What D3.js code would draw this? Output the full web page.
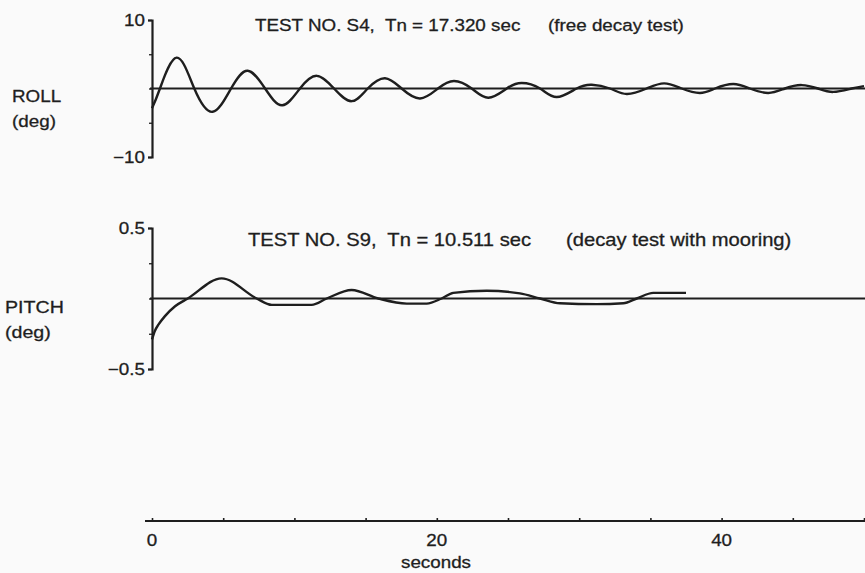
<!DOCTYPE html>
<html>
<head>
<meta charset="utf-8">
<script src="https://cdn.jsdelivr.net/npm/d3@7"></script>
<style>
  body { margin: 0; background: #fafafa; }
  text { font-family: "Liberation Sans", Arial, sans-serif; fill: #1e1e1e; stroke: #1e1e1e; stroke-width: 0.3px; white-space: pre; }
</style>
</head>
<body>
<div id="chart"></div>
<script>
// roll free decay trace (peaks, troughs, zero crossings)
var rollT = [0, 0.56, 1.73, 2.97, 4.26, 5.55, 6.72, 7.94, 9.15, 10.39, 11.57, 12.78, 14.02, 15.15, 16.36, 17.53, 18.82, 20.08, 21.21, 22.45, 23.62, 24.91, 25.96, 27.25, 28.42, 29.82, 30.88, 32.16, 33.34, 34.74, 35.97, 37.20, 38.48, 39.54, 40.82, 41.99, 43.28, 44.45, 45.62, 46.77, 47.84, 49.14, 50.0];
var rollV = [-2.9, 0, 4.5, 0, -3.4, 0, 2.6, 0, -2.45, 0, 1.85, 0, -1.85, 0, 1.5, 0, -1.45, 0, 1.1, 0, -1.35, 0, 0.8, 0, -1.25, 0, 0.55, 0, -0.8, 0, 0.75, 0, -0.65, 0, 0.65, 0, -0.65, 0, 0.5, 0, -0.5, 0, 0.35];

// pitch decay with mooring
var pitchT = [0, 0.2, 0.45, 0.91, 1.62, 2.51, 4.89, 7.35, 8.41, 11.21, 12.27, 14.02, 15.89, 17.89, 19.29, 20.34, 21.16, 23.50, 25.84, 27.25, 28.65, 31.23, 33.10, 34.04, 35.20, 37.50];
var pitchV = [-0.29, -0.23, -0.186, -0.125, -0.055, 0, 0.143, 0, -0.045, -0.045, 0, 0.06, 0, -0.036, -0.036, 0, 0.04, 0.055, 0.036, 0, -0.034, -0.04, -0.034, 0, 0.04, 0.04];

var xTicksMinor = [0, 5, 10, 15, 20, 25, 30, 35, 40, 45, 50];
var xTicksMajor = [0, 20, 40];
var rollTicks = [-10, 10], rollMinor = [-5, 0, 5];
var pitchTicks = [-0.5, 0.5], pitchMinor = [-0.25, 0, 0.25];

var titles = [
    { main: "TEST NO. S4,  Tn = 17.320 sec", note: "(free decay test)" },
    { main: "TEST NO. S9,  Tn = 10.511 sec", note: "(decay test with mooring)" }
];

var W = 865, H = 573;
var ink = "#1e1e1e";

var svg = d3.select("#chart").append("svg")
    .attr("width", W)
    .attr("height", H);

var x = d3.scaleLinear().domain([0, 50]).range([152, 864]);
var yRoll = d3.scaleLinear().domain([-10, 10]).range([157, 20]);
var yPitch = d3.scaleLinear().domain([-0.5, 0.5]).range([369, 228]);

function stretchText(str, tx, ty, anchor, size) {
    // scan text is a bit wider than Liberation Sans, so stretch horizontally
    return svg.append("text")
        .attr("transform", "translate(" + tx + "," + ty + ") scale(1.14,1)")
        .attr("text-anchor", anchor || "start")
        .style("font-size", (size || 16.5) + "px")
        .text(str);
}

function panel(y, ticks, minor, fmt, t, v, curve, title, titleX, noteX, titleY, tSize, label, labelX, labelY, lSize) {
    // y axis with end ticks and labels
    var ax = svg.append("g")
        .attr("transform", "translate(" + x(0) + ",0)")
        .call(d3.axisLeft(y).tickValues(ticks).tickSize(4).tickFormat(fmt));
    ax.select(".domain").attr("stroke", ink).attr("stroke-width", 2.2);
    ax.selectAll(".tick line").attr("stroke", ink).attr("stroke-width", 1.6);
    ax.selectAll(".tick text").remove();
    ticks.forEach(function (d) {
        stretchText(fmt(d), x(0) - 7, y(d) + 6, "end");
    });
    var mn = svg.append("g")
        .attr("transform", "translate(" + x(0) + ",0)")
        .call(d3.axisLeft(y).tickValues(minor).tickSize(3).tickFormat(""));
    mn.select(".domain").remove();
    mn.selectAll(".tick line").attr("stroke", ink).attr("stroke-width", 1.3);

    // zero reference line
    svg.append("line")
        .attr("x1", x(0) - 2).attr("x2", W)
        .attr("y1", y(0)).attr("y2", y(0))
        .attr("stroke", ink).attr("stroke-width", 1.8);

    var pts = t.map(function (d, i) { return [d, v[i]]; });
    svg.append("path")
        .datum(pts)
        .attr("fill", "none")
        .attr("stroke", ink)
        .attr("stroke-width", 2.4)
        .attr("d", d3.line()
            .x(function (d) { return x(d[0]); })
            .y(function (d) { return y(d[1]); })
            .curve(curve));

    stretchText(title.main, titleX, titleY, "start", tSize);
    stretchText(title.note, noteX, titleY, "start", tSize);
    stretchText(label, labelX, labelY, "start", lSize);
    stretchText("(deg)", labelX, labelY + 25, "start", lSize);
}

var f0 = d3.format("d"), f1 = d3.format(".1f");
panel(yRoll, rollTicks, rollMinor, f0, rollT, rollV, d3.curveNatural, titles[0], 255, 548, 31, 16.5, "ROLL", 12, 102, 16.5);
panel(yPitch, pitchTicks, pitchMinor, f1, pitchT, pitchV, d3.curveMonotoneX, titles[1], 248, 566, 246, 17.7, "PITCH", 5, 313, 17.2);

// time axis at the bottom
var xa = svg.append("g")
    .attr("transform", "translate(0,521)")
    .call(d3.axisBottom(x).tickValues(xTicksMinor).tickSize(-3).tickFormat(""));
xa.select(".domain").remove();
xa.selectAll(".tick line").attr("stroke", ink).attr("stroke-width", 1.6);
svg.append("line")
    .attr("x1", 145).attr("x2", W)
    .attr("y1", 521).attr("y2", 521)
    .attr("stroke", ink).attr("stroke-width", 2.2);
xTicksMajor.forEach(function (d) {
    stretchText(f0(d), x(d), 546, "middle");
});
stretchText("seconds", 436, 568, "middle");
</script>
</body>
</html>
